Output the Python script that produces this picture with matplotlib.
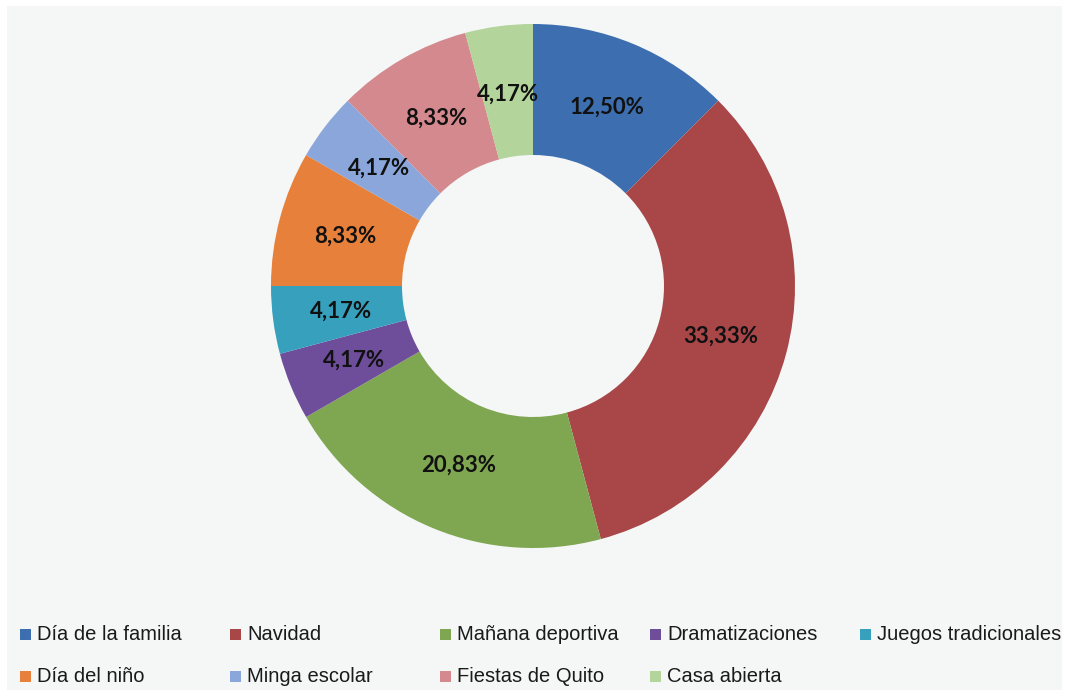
import matplotlib
matplotlib.use("Agg")
import matplotlib.pyplot as plt
from matplotlib.patches import Rectangle

categories = ["Día de la familia", "Navidad", "Mañana deportiva", "Dramatizaciones",
              "Juegos tradicionales", "Día del niño", "Minga escolar",
              "Fiestas de Quito", "Casa abierta"]
counts = [3, 8, 5, 1, 1, 2, 1, 2, 1]
colors = ["#3d6fb0", "#a84648", "#7fa650", "#6e4d9b", "#36a0bd",
          "#e6803a", "#8aa6da", "#d4898f", "#b3d49a"]

W, H = 1067, 693
fig = plt.figure(figsize=(W / 100, H / 100), dpi=100)
fig.patch.set_facecolor("white")
# grey chart area behind everything
fig.patches.append(Rectangle((7 / W, 3 / H), 1055 / W, 684 / H, transform=fig.transFigure,
                             facecolor="#f5f6f6", edgecolor="none", zorder=-5))

# donut axes: centre (533, 286) px, radius 262 px
cx, cy, r = 533, 286, 262
ax = fig.add_axes([(cx - r) / W, (H - cy - r) / H, 2 * r / W, 2 * r / H])
ax.set_facecolor("none")

wedges, texts, autotexts = ax.pie(
    counts, colors=colors, startangle=90, counterclock=False, radius=1,
    wedgeprops=dict(width=0.5, edgecolor="none"),
    autopct=lambda p: f"{p:.2f}%".replace(".", ","), pctdistance=0.74,
    textprops=dict(fontsize=16, fontweight="bold", family="Lato", color="#111111"))
ax.set_xlim(-1, 1)
ax.set_ylim(-1, 1)
ax.set_aspect("equal")
ax.axis("off")

# legend, two rows of five equal columns
for i, (name, col) in enumerate(zip(categories, colors)):
    row, c = divmod(i, 5)
    x0 = 20 + c * 210
    y0 = 634 + row * 42
    fig.patches.append(Rectangle((x0 / W, (H - y0 - 5.5) / H), 11 / W, 11 / H,
                                 transform=fig.transFigure, facecolor=col,
                                 edgecolor="none"))
    fig.text((x0 + 17) / W, (H - y0) / H, name, fontsize=14.5, family="Liberation Sans",
             color="#1a1a1a", va="center", ha="left")

fig.savefig("out.png", dpi=100)
